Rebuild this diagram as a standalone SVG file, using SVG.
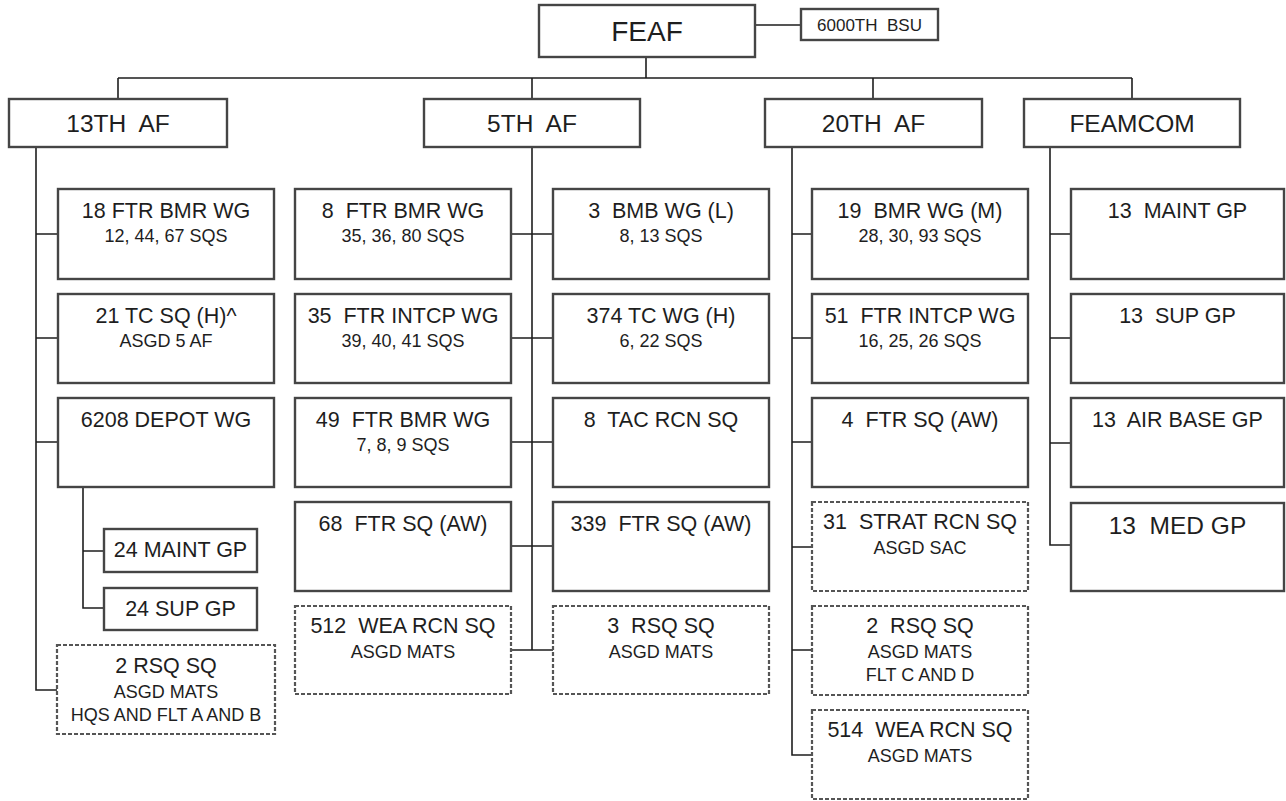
<svg xmlns="http://www.w3.org/2000/svg" width="1286" height="801" viewBox="0 0 1286 801">
<style>
.bg{fill:#fff}
.box{fill:#fff;stroke:#454545;stroke-width:2.4}
.dash{fill:#fff;stroke:#555;stroke-width:2.2;stroke-dasharray:4 2}
.ln{fill:none;stroke:#1e1e1e;stroke-width:1.6}
text{font-family:"Liberation Sans",Arial,sans-serif;fill:#1e1e1e;text-anchor:middle;white-space:pre}
.t1{font-size:21.5px}
.t2{font-size:18px}
.t3{font-size:24.5px}
.t0{font-size:28px}
.tb{font-size:17px}
</style>
<rect class="bg" x="0" y="0" width="1286" height="801"/>
<g id="connectors">
<path class="ln" d="M646 57V78M754 25H801M118 78H1132M118 78V99M532 78V99M873 78V99M1132 78V99"/>
<path class="ln" d="M36 147V690H57M36 234H58M36 338H58M36 442H58M83 487V608H104M83 551H104"/>
<path class="ln" d="M532 147V650M511 234H553M511 338H553M511 442H553M511 546H553M511 650H553"/>
<path class="ln" d="M792 147V755H812M792 234H812M792 338H812M792 442H812M792 547H812M792 650H812"/>
<path class="ln" d="M1050 147V545H1071M1050 234H1071M1050 338H1071M1050 443H1071"/>
</g>
<g id="feaf"><rect class="box" x="539" y="5" width="216" height="52"/><text class="t0" x="647" y="41">FEAF</text></g>
<g id="bsu"><rect class="box" x="801" y="9" width="137" height="31"/><text class="tb" x="869.5" y="31">6000TH  BSU</text></g>
<g id="af13"><rect class="box" x="9" y="99" width="218" height="48"/><text class="t3" x="118" y="132">13TH  AF</text></g>
<g id="af5"><rect class="box" x="424" y="99" width="216" height="48"/><text class="t3" x="532" y="132">5TH  AF</text></g>
<g id="af20"><rect class="box" x="765" y="99" width="217" height="48"/><text class="t3" x="873.5" y="132">20TH  AF</text></g>
<g id="feamcom"><rect class="box" x="1024" y="99" width="216" height="48"/><text class="t3" x="1132" y="132">FEAMCOM</text></g>

<g id="n18ftr"><rect class="box" x="58" y="189" width="216" height="90"/><text class="t1" x="166" y="218">18 FTR BMR WG</text><text class="t2" x="166" y="241.5">12, 44, 67 SQS</text></g>
<g id="n21tc"><rect class="box" x="58" y="294" width="216" height="89"/><text class="t1" x="166" y="323">21 TC SQ (H)^</text><text class="t2" x="166" y="346.5">ASGD 5 AF</text></g>
<g id="n6208"><rect class="box" x="58" y="398" width="216" height="89"/><text class="t1" x="166" y="427">6208 DEPOT WG</text></g>
<g id="n24maint"><rect class="box" x="104" y="529" width="153" height="43"/><text class="t1" x="180.5" y="557">24 MAINT GP</text></g>
<g id="n24sup"><rect class="box" x="104" y="588" width="153" height="42"/><text class="t1" x="180.5" y="616">24 SUP GP</text></g>
<g id="n2rsq13"><rect class="dash" x="57" y="645" width="218" height="89"/><text class="t1" x="166" y="673">2 RSQ SQ</text><text class="t2" x="166" y="698">ASGD MATS</text><text class="t2" x="166" y="721">HQS AND FLT A AND B</text></g>

<g id="n8ftr"><rect class="box" x="295" y="189" width="216" height="90"/><text class="t1" x="403" y="218">8  FTR BMR WG</text><text class="t2" x="403" y="241.5">35, 36, 80 SQS</text></g>
<g id="n35ftr"><rect class="box" x="295" y="294" width="216" height="89"/><text class="t1" x="403" y="323">35  FTR INTCP WG</text><text class="t2" x="403" y="346.5">39, 40, 41 SQS</text></g>
<g id="n49ftr"><rect class="box" x="295" y="398" width="216" height="89"/><text class="t1" x="403" y="427">49  FTR BMR WG</text><text class="t2" x="403" y="450.5">7, 8, 9 SQS</text></g>
<g id="n68ftr"><rect class="box" x="295" y="502" width="216" height="89"/><text class="t1" x="403" y="531">68  FTR SQ (AW)</text></g>
<g id="n512wea"><rect class="dash" x="295" y="606" width="216" height="88"/><text class="t1" x="403" y="633">512  WEA RCN SQ</text><text class="t2" x="403" y="658">ASGD MATS</text></g>
<g id="n3bmb"><rect class="box" x="553" y="189" width="216" height="90"/><text class="t1" x="661" y="218">3  BMB WG (L)</text><text class="t2" x="661" y="241.5">8, 13 SQS</text></g>
<g id="n374tc"><rect class="box" x="553" y="294" width="216" height="89"/><text class="t1" x="661" y="323">374 TC WG (H)</text><text class="t2" x="661" y="346.5">6, 22 SQS</text></g>
<g id="n8tac"><rect class="box" x="553" y="398" width="216" height="89"/><text class="t1" x="661" y="427">8  TAC RCN SQ</text></g>
<g id="n339ftr"><rect class="box" x="553" y="502" width="216" height="89"/><text class="t1" x="661" y="531">339  FTR SQ (AW)</text></g>
<g id="n3rsq"><rect class="dash" x="553" y="606" width="216" height="88"/><text class="t1" x="661" y="633">3  RSQ SQ</text><text class="t2" x="661" y="658">ASGD MATS</text></g>

<g id="n19bmr"><rect class="box" x="812" y="189" width="216" height="90"/><text class="t1" x="920" y="218">19  BMR WG (M)</text><text class="t2" x="920" y="241.5">28, 30, 93 SQS</text></g>
<g id="n51ftr"><rect class="box" x="812" y="294" width="216" height="89"/><text class="t1" x="920" y="323">51  FTR INTCP WG</text><text class="t2" x="920" y="346.5">16, 25, 26 SQS</text></g>
<g id="n4ftr"><rect class="box" x="812" y="398" width="216" height="89"/><text class="t1" x="920" y="427">4  FTR SQ (AW)</text></g>
<g id="n31strat"><rect class="dash" x="812" y="502" width="216" height="89"/><text class="t1" x="920" y="529">31  STRAT RCN SQ</text><text class="t2" x="920" y="554">ASGD SAC</text></g>
<g id="n2rsq20"><rect class="dash" x="812" y="606" width="216" height="89"/><text class="t1" x="920" y="633">2  RSQ SQ</text><text class="t2" x="920" y="658">ASGD MATS</text><text class="t2" x="920" y="681">FLT C AND D</text></g>
<g id="n514wea"><rect class="dash" x="812" y="710" width="216" height="89"/><text class="t1" x="920" y="737">514  WEA RCN SQ</text><text class="t2" x="920" y="762">ASGD MATS</text></g>

<g id="n13maint"><rect class="box" x="1071" y="189" width="213" height="90"/><text class="t1" x="1177.5" y="218">13  MAINT GP</text></g>
<g id="n13sup"><rect class="box" x="1071" y="294" width="213" height="89"/><text class="t1" x="1177.5" y="323">13  SUP GP</text></g>
<g id="n13abg"><rect class="box" x="1071" y="398" width="213" height="89"/><text class="t1" x="1177.5" y="427">13  AIR BASE GP</text></g>
<g id="n13med"><rect class="box" x="1071" y="503" width="213" height="88"/><text class="t3" x="1177.5" y="534">13  MED GP</text></g>
</svg>
